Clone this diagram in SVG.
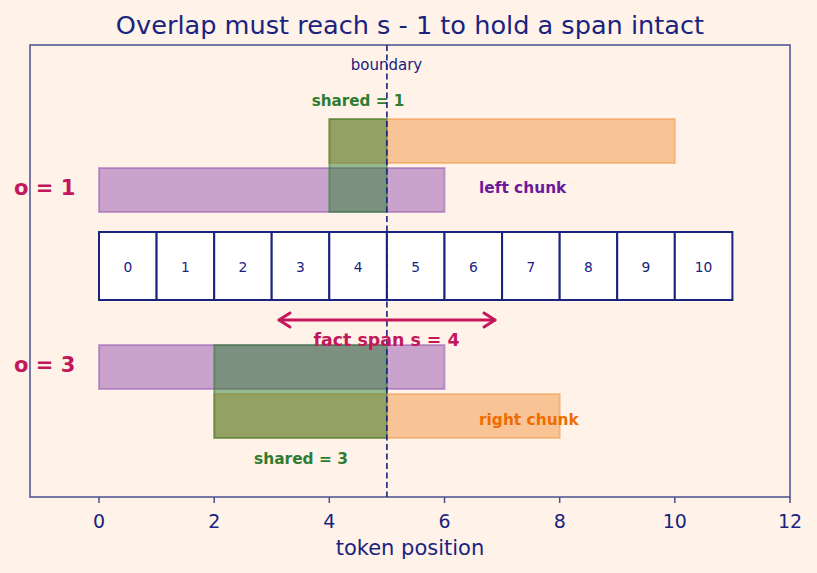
<svg xmlns="http://www.w3.org/2000/svg" width="817" height="573" viewBox="0 0 817 573">
<style>
text{font-family:"DejaVu Sans","Liberation Sans",sans-serif}
.ax{fill:none;stroke:#4a4f8e;stroke-width:1.5}
.tick{stroke:#4a4f8e;stroke-width:1.5}
.tl{font-size:19px;fill:#1a237e;text-anchor:middle}
.cell{fill:#ffffff;stroke:#1a237e;stroke-width:2}
.cn{font-size:13.8px;fill:#1a237e;text-anchor:middle}
.pur{fill:#9354b0;fill-opacity:0.5;stroke:#9354b0;stroke-opacity:0.5;stroke-width:2}
.org{fill:#f19644;fill-opacity:0.5;stroke:#f19644;stroke-opacity:0.5;stroke-width:2}
.grn{fill:#2e7d32;fill-opacity:0.5;stroke:#2e7d32;stroke-opacity:0.5;stroke-width:2}
.b{font-weight:bold}
</style>
<rect x="0" y="0" width="817" height="573" fill="#fff2e8"/>
<text x="410" y="34" style="font-size:25.6px;fill:#1a237e;text-anchor:middle">Overlap must reach s - 1 to hold a span intact</text>

<g id="axes">
<rect class="ax" x="30" y="45" width="760" height="452"/>
<g>
<line class="tick" x1="99" y1="497" x2="99" y2="503"/>
<line class="tick" x1="214.2" y1="497" x2="214.2" y2="503"/>
<line class="tick" x1="329.3" y1="497" x2="329.3" y2="503"/>
<line class="tick" x1="444.5" y1="497" x2="444.5" y2="503"/>
<line class="tick" x1="559.7" y1="497" x2="559.7" y2="503"/>
<line class="tick" x1="674.8" y1="497" x2="674.8" y2="503"/>
<line class="tick" x1="790" y1="497" x2="790" y2="503"/>
</g>
<text class="tl" x="99" y="528">0</text>
<text class="tl" x="214.2" y="528">2</text>
<text class="tl" x="329.3" y="528">4</text>
<text class="tl" x="444.5" y="528">6</text>
<text class="tl" x="559.7" y="528">8</text>
<text class="tl" x="674.8" y="528">10</text>
<text class="tl" x="790" y="528">12</text>
<text x="410" y="555" style="font-size:21px;fill:#1a237e;text-anchor:middle">token position</text>
</g>

<g id="top-o1">
<rect id="top-right-chunk" class="org" x="329.3" y="119" width="345.5" height="44"/>
<rect id="top-left-chunk" class="pur" x="99" y="168" width="345.5" height="44"/>
<rect id="top-shared" class="grn" x="329.3" y="119" width="57.6" height="93"/>
<text class="b" x="14" y="195" style="font-size:21px;fill:#c2185b">o = 1</text>
<text class="b" x="358" y="106" style="font-size:15.2px;fill:#2e7d32;text-anchor:middle">shared = 1</text>
<text class="b" x="479" y="193" style="font-size:15.4px;fill:#6a1b9a">left chunk</text>
</g>

<g id="tokens">
<rect class="cell" x="99" y="232" width="57.6" height="68"/>
<rect class="cell" x="156.6" y="232" width="57.6" height="68"/>
<rect class="cell" x="214.2" y="232" width="57.5" height="68"/>
<rect class="cell" x="271.7" y="232" width="57.6" height="68"/>
<rect class="cell" x="329.3" y="232" width="57.6" height="68"/>
<rect class="cell" x="386.9" y="232" width="57.6" height="68"/>
<rect class="cell" x="444.5" y="232" width="57.6" height="68"/>
<rect class="cell" x="502.1" y="232" width="57.6" height="68"/>
<rect class="cell" x="559.7" y="232" width="57.5" height="68"/>
<rect class="cell" x="617.2" y="232" width="57.6" height="68"/>
<rect class="cell" x="674.8" y="232" width="57.6" height="68"/>
<text class="cn" x="127.8" y="272">0</text>
<text class="cn" x="185.4" y="272">1</text>
<text class="cn" x="243" y="272">2</text>
<text class="cn" x="300.5" y="272">3</text>
<text class="cn" x="358.1" y="272">4</text>
<text class="cn" x="415.7" y="272">5</text>
<text class="cn" x="473.3" y="272">6</text>
<text class="cn" x="530.9" y="272">7</text>
<text class="cn" x="588.5" y="272">8</text>
<text class="cn" x="646" y="272">9</text>
<text class="cn" x="703.6" y="272">10</text>
</g>

<g id="bottom-o3">
<rect id="bot-left-chunk" class="pur" x="99" y="345" width="345.5" height="44"/>
<rect id="bot-right-chunk" class="org" x="214.2" y="394" width="345.5" height="44"/>
<rect id="bot-shared" class="grn" x="214.2" y="345" width="172.7" height="93"/>
<text class="b" x="14" y="372" style="font-size:21px;fill:#c2185b">o = 3</text>
<text class="b" x="479" y="425" style="font-size:15.4px;fill:#ef6c00">right chunk</text>
<text class="b" x="301" y="464" style="font-size:15.4px;fill:#2e7d32;text-anchor:middle">shared = 3</text>
</g>

<g id="connectors">
<line x1="386.9" y1="45" x2="386.9" y2="497" stroke="#1a237e" stroke-width="1.6" stroke-dasharray="6,3.5"/>
<g fill="none" stroke="#c2185b" stroke-width="3" stroke-linecap="round" stroke-linejoin="round">
<line x1="279" y1="320" x2="495" y2="320"/>
<polyline points="290,313 279,320 290,327"/>
<polyline points="484,313 495,320 484,327"/>
</g>
<text class="b" x="386.5" y="346" style="font-size:17.4px;fill:#c2185b;text-anchor:middle">fact span s = 4</text>
<text x="386.5" y="70" style="font-size:15px;fill:#1a237e;text-anchor:middle">boundary</text>
</g>
</svg>
